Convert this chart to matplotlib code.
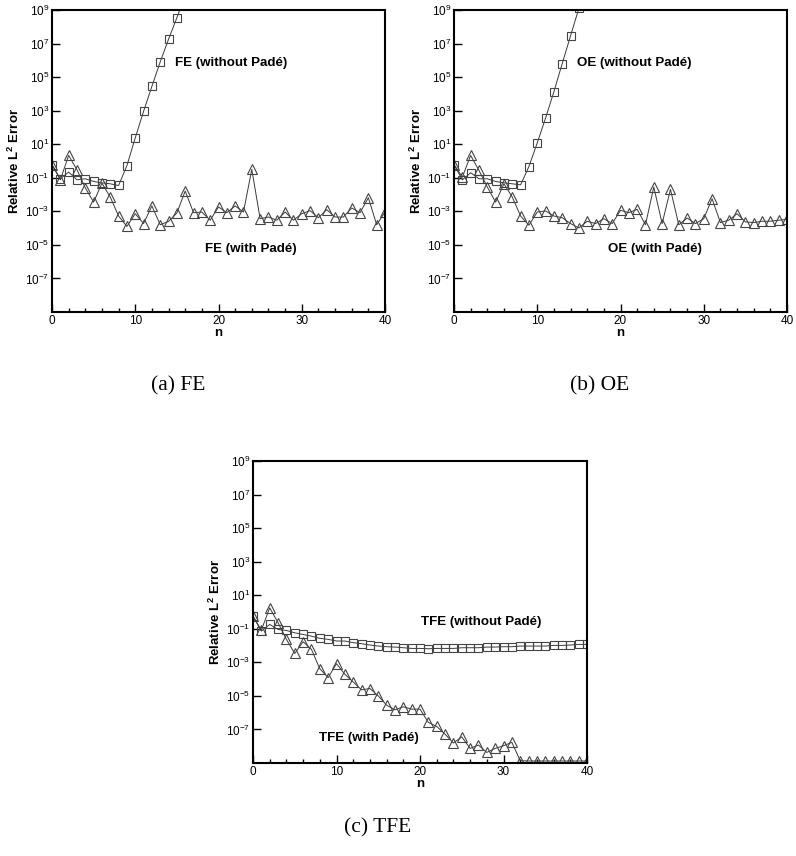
import numpy as np
import matplotlib
matplotlib.use("Agg")
import matplotlib.pyplot as plt
from matplotlib.ticker import MultipleLocator, FixedLocator

plt.rcParams["font.family"] = ["Liberation Sans", "DejaVu Sans"]

n = np.arange(41)

# log10 of relative L2 error
fe_nopade = [-0.23, -1.06, -0.66, -1.12, -1.06, -1.22, -1.30, -1.36, -1.46, -0.27,
             1.38, 2.96, 4.45, 5.91, 7.26, 8.54, 9.9]
fe_pade = [-0.21, -1.12, 0.33, -0.52, -1.60, -2.45, -1.32, -2.15, -3.28, -3.90,
           -3.14, -3.73, -2.68, -3.80, -3.60, -3.10, -1.79, -3.08, -3.04, -3.53,
           -2.74, -3.08, -2.68, -3.04, -0.50, -3.44, -3.34, -3.53, -3.04, -3.53,
           -3.14, -2.96, -3.38, -2.90, -3.34, -3.34, -2.80, -3.08, -2.19, -3.80,
           -3.04]

oe_nopade = [-0.21, -1.12, -0.70, -1.06, -1.06, -1.22, -1.30, -1.36, -1.42, -0.33,
             1.08, 2.56, 4.13, 5.81, 7.46, 9.1]
oe_pade = [-0.21, -0.96, 0.33, -0.56, -1.55, -2.45, -1.36, -2.15, -3.28, -3.83,
           -3.04, -2.98, -3.28, -3.38, -3.73, -3.99, -3.59, -3.73, -3.44, -3.73,
           -2.94, -3.08, -2.88, -3.80, -1.55, -3.73, -1.69, -3.80, -3.40, -3.73,
           -3.44, -2.25, -3.67, -3.53, -3.14, -3.63, -3.67, -3.59, -3.59, -3.53,
           -3.48]

tfe_nopade = [-0.25, -1.14, -0.74, -1.04, -1.10, -1.24, -1.34, -1.44, -1.57, -1.63,
              -1.73, -1.73, -1.83, -1.89, -1.97, -2.03, -2.07, -2.09, -2.13, -2.17,
              -2.17, -2.19, -2.17, -2.17, -2.17, -2.13, -2.13, -2.13, -2.09, -2.09,
              -2.07, -2.07, -2.03, -2.03, -2.03, -2.03, -1.99, -1.99, -1.97, -1.93,
              -1.93]
tfe_pade = [-0.25, -1.08, 0.25, -0.64, -1.63, -2.47, -1.77, -2.23, -3.38, -3.91,
            -3.08, -3.71, -4.17, -4.64, -4.56, -5.00, -5.55, -5.83, -5.65, -5.79,
            -5.79, -6.58, -6.82, -7.28, -7.81, -7.44, -8.13, -7.93, -8.37, -8.13,
            -7.97, -7.77, -8.86, -8.88, -8.88, -8.88, -8.88, -8.88, -8.88, -8.88,
            -8.88]

ytick_exp = [9, 7, 5, 3, 1, -1, -3, -5, -7]

panels = [
    ("(a) FE", "FE", fe_nopade, fe_pade),
    ("(b) OE", "OE", oe_nopade, oe_pade),
    ("(c) TFE", "TFE", tfe_nopade, tfe_pade),
]

W, H = 796, 856
fig = plt.figure(figsize=(W / 100, H / 100), dpi=100)

# axes boxes in pixels: left, top, right, bottom
boxes = [(52, 10, 385, 312), (454, 10, 787, 312), (253, 461, 587, 763)]
# label positions in axes fraction
text_pos = [
    ((0.369, 0.824), (0.459, 0.209)),
    ((0.369, 0.824), (0.462, 0.209)),
    ((0.503, 0.467), (0.198, 0.083)),
]
caption_pos = [(178, 386), (600, 386), (378, 828)]

line_kw = dict(color="#3a3a3a", lw=0.7, mfc="none", mec="#444444", mew=0.8)

for i, (cap, name, nopade, pade) in enumerate(panels):
    l, t, r, b = boxes[i]
    ax = fig.add_axes([l / W, 1 - b / H, (r - l) / W, (b - t) / H])
    ax.plot(n[:len(nopade)], np.power(10.0, nopade), marker="s", ms=6, **line_kw)
    ax.plot(n, np.power(10.0, pade), marker="^", ms=7.5, **line_kw)

    ax.set_yscale("log")
    ax.set_ylim(1e-9, 1e9)
    ax.set_xlim(0, 40)
    ax.yaxis.set_major_locator(FixedLocator([10.0 ** e for e in ytick_exp]))
    ax.yaxis.set_minor_locator(FixedLocator([]))
    ax.set_yticklabels([r"$\mathregular{10^{%d}}$" % e for e in ytick_exp])
    ax.xaxis.set_major_locator(MultipleLocator(10))
    ax.xaxis.set_minor_locator(MultipleLocator(2))

    ax.tick_params(which="both", direction="in", top=False, right=False,
                   labelsize=8.5, width=1.0)
    ax.tick_params(which="major", length=6, pad=2)
    ax.tick_params(which="minor", length=3)
    for s in ax.spines.values():
        s.set_linewidth(1.5)

    ax.set_xlabel("n", fontsize=9.5, fontweight="bold", labelpad=0)
    ax.set_ylabel(r"Relative L$\mathregular{^2}$ Error", fontsize=9.5,
                  fontweight="bold", labelpad=2)

    (x1, y1), (x2, y2) = text_pos[i]
    ax.text(x1, y1, f"{name} (without Padé)", transform=ax.transAxes,
            fontsize=9.6, fontweight="bold", va="center", ha="left")
    ax.text(x2, y2, f"{name} (with Padé)", transform=ax.transAxes,
            fontsize=9.6, fontweight="bold", va="center", ha="left")

    cx, cy = caption_pos[i]
    fig.text(cx / W, 1 - cy / H, cap, family="Liberation Serif", fontsize=15.5,
             ha="center", va="center")

fig.savefig("out.png", dpi=100)
